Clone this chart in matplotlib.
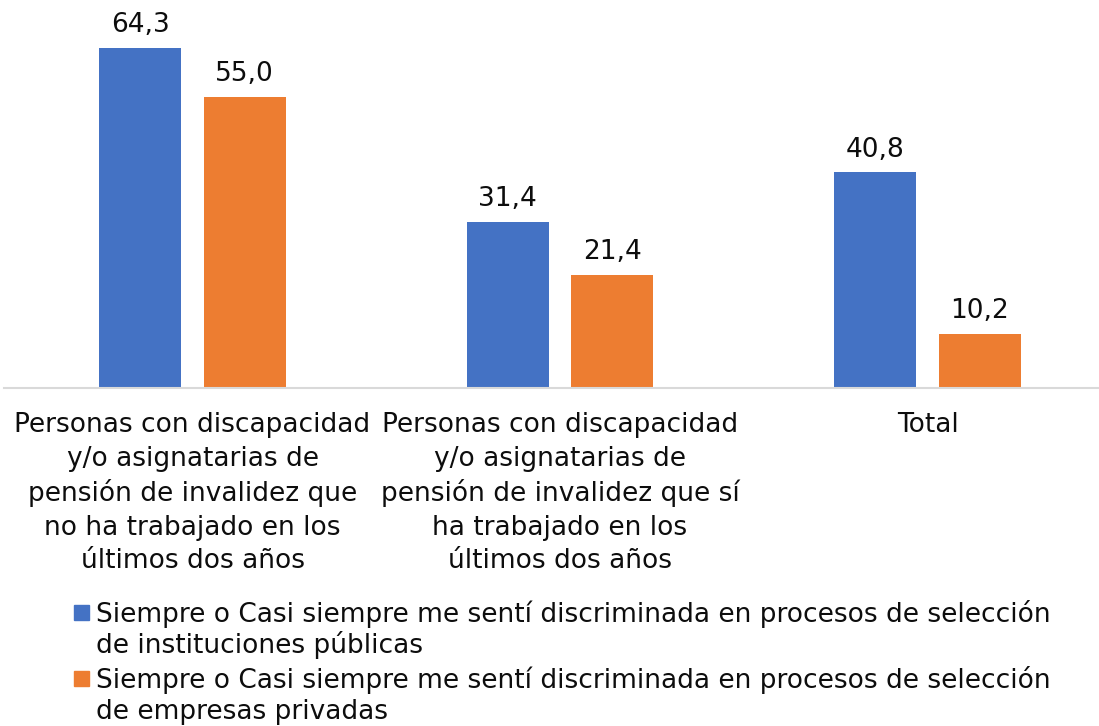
import numpy as np
import matplotlib.pyplot as plt
from matplotlib.patches import Rectangle

categories = [
    "Personas con discapacidad\ny/o asignatarias de\npensión de invalidez que\nno ha trabajado en los\núltimos dos años",
    "Personas con discapacidad\ny/o asignatarias de\npensión de invalidez que sí\nha trabajado en los\núltimos dos años",
    "Total",
]
publicas = [64.3, 31.4, 40.8]
privadas = [55.0, 21.4, 10.2]
series_names = [
    "Siempre o Casi siempre me sentí discriminada en procesos de selección\nde instituciones públicas",
    "Siempre o Casi siempre me sentí discriminada en procesos de selección\nde empresas privadas",
]
blue = "#4472C4"
orange = "#ED7D31"
txt = "#0d0d0d"
fs = 19

plt.rcParams['font.family'] = ['DejaVu Sans']

fig = plt.figure(figsize=(10.99, 7.26), dpi=100)
W, H = 1099, 726
# axes: baseline at y=388px, category spacing 367.5px
ax = fig.add_axes([4 / W, 1 - 388 / H, 1095 / W, 388 / H])
x = np.arange(len(categories))
bw = 0.223
off = 0.142
b1 = ax.bar(x - off, publicas, bw, color=blue)
b2 = ax.bar(x + off, privadas, bw, color=orange)
for bars, vals in [(b1, publicas), (b2, privadas)]:
    for b, v in zip(bars, vals):
        ax.annotate(f"{v:.1f}".replace(".", ","), (b.get_x() + b.get_width() / 2, v),
                    xytext=(0, 7), textcoords="offset points", ha="center", va="bottom",
                    fontsize=fs, color=txt)

ax.set_xlim(-0.513, -0.513 + 1095 / 367.5)
ax.set_ylim(0, 388 / 5.288)
ax.set_xticks(x)
ax.set_xticklabels(categories, fontsize=fs, linespacing=1.36, color=txt)
ax.tick_params(axis="x", length=0, pad=17.5)
ax.set_yticks([])
for s in ["top", "right", "left"]:
    ax.spines[s].set_visible(False)
ax.spines["bottom"].set_color("#d9d9d9")
ax.spines["bottom"].set_linewidth(1.5)

# legend drawn by hand so the square sits on the first line
for i, (name, col) in enumerate(zip(series_names, [blue, orange])):
    y0 = 622 + 66 * i
    fig.patches.append(Rectangle((74 / W, 1 - (y0 - 2) / H), 15 / W, 15 / H,
                                 transform=fig.transFigure, color=col))
    for j, line in enumerate(name.split("\n")):
        fig.text(96 / W, 1 - (y0 + 31 * j) / H, line, fontsize=fs, color=txt,
                 ha="left", va="baseline")

fig.savefig("out.png", dpi=100)
